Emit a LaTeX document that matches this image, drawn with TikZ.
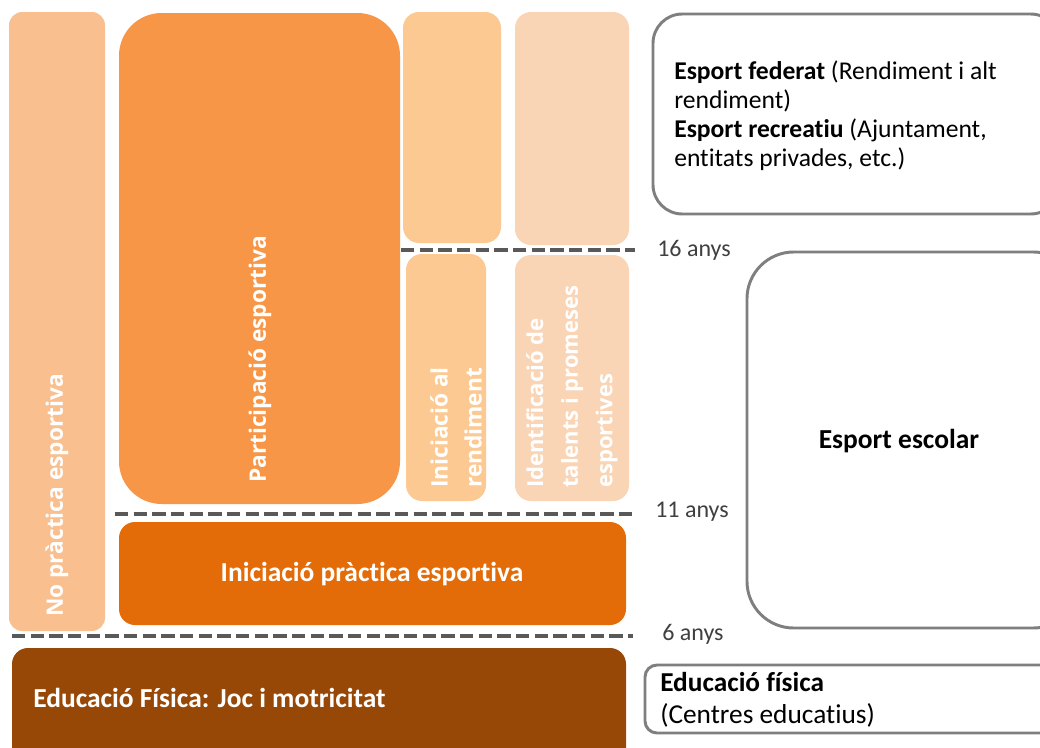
\documentclass[tikz,border=0pt]{standalone}
\usepackage{fontspec}
\setmainfont[Ligatures=NoCommon]{Carlito}
\newfontfamily\vfont{Open Sans}
\definecolor{cNo}{HTML}{F9BF8F}
\definecolor{cPart}{HTML}{F79646}
\definecolor{cRend}{HTML}{FDC993}
\definecolor{cTal}{HTML}{FAD5B5}
\definecolor{cIni}{HTML}{E36C09}
\definecolor{cEdu}{HTML}{984806}
\definecolor{cBorder}{HTML}{7F7F7F}
\definecolor{cDash}{HTML}{595959}
\definecolor{cAge}{HTML}{404040}
\tikzset{
  blk/.style={rounded corners=#1, draw=none},
  outbox/.style={rounded corners=#1, draw=cBorder, line width=2.2pt, fill=white},
  agesep/.style={draw=cDash, line width=3pt, dash pattern=on 10pt off 4pt},
  vtxt/.style={rotate=90, anchor=west, text=white, font=\vfont\bfseries\fontsize{17}{20}\selectfont, align=left, inner sep=0pt},
  agelbl/.style={anchor=west, text=cAge, font=\fontsize{18}{20}\selectfont, inner sep=0pt},
  wlbl/.style={text=white, font=\bfseries\fontsize{20.6}{24}\selectfont},
}
\begin{document}
\begin{tikzpicture}[x=0.75pt,y=-0.75pt]
\clip (0,0) rectangle (1040,747);
\fill[white] (0,0) rectangle (1040,747);
% coloured blocks
\fill[blk=10pt, cNo] (9,12) rectangle (105,631);
\fill[blk=32pt, cPart] (119,13) rectangle (400,504);
\fill[blk=12pt, cRend] (403,12) rectangle (501,243);
\fill[blk=12pt, cTal] (515,12) rectangle (629,245);
\fill[blk=12pt, cRend] (406,254) rectangle (486,501);
\fill[blk=12pt, cTal] (515,255) rectangle (629,501);
\fill[blk=12pt, cIni] (119,522) rectangle (626,625);
\fill[blk=12pt, cEdu] (12,648) rectangle (626,770);
% texts in blocks
\node[vtxt] (noprac) at (57,617) {No pràctica esportiva};
\node[vtxt] (part) at (260,483) {Participació esportiva};
\node[vtxt, font=\vfont\bfseries\fontsize{17}{25.5}\selectfont] (rend) at (456,488) {Iniciació al\\rendiment};
\node[vtxt, font=\vfont\bfseries\fontsize{16.5}{26}\selectfont] (tal) at (572,488) {Identificació de\\talents i promeses\\esportives};
\node[wlbl] (ini) at (372,574) {Iniciació pràctica esportiva};
\node[wlbl, anchor=west, inner sep=0pt] (edu) at (33,698) {Educació Física: Joc i motricitat};
% age separators
\coordinate (s16a) at (401,250); \coordinate (s16b) at (635,250);
\coordinate (s11a) at (115,514); \coordinate (s11b) at (633,514);
\coordinate (s6a) at (12,636); \coordinate (s6b) at (633,636);
\draw[agesep] (s16a) -- (s16b);
\draw[agesep] (s11a) -- (s11b);
\draw[agesep] (s6a) -- (s6b);
\node[agelbl] (a16) at (657,250) {16 anys};
\node[agelbl] (a11) at (655,512) {11 anys};
\node[agelbl] (a6) at (662,634) {6 anys};
% outlined boxes on the right
\draw[outbox=22pt] (653,14) rectangle (1060,214);
\node[anchor=west, inner sep=0pt, align=left, font=\fontsize{19.2}{21.75}\selectfont] (fed) at (674,116)
  {\textbf{Esport federat} (Rendiment i alt\\rendiment)\\\textbf{Esport recreatiu} (Ajuntament,\\entitats privades, etc.)};
\draw[outbox=35pt] (747,252) rectangle (1080,628);
\node[font=\bfseries\fontsize{20.6}{24}\selectfont] (esc) at (899,441) {Esport escolar};
\draw[outbox=9pt] (645,665) rectangle (1060,733);
\node[anchor=west, inner sep=0pt, align=left, font=\fontsize{20.5}{24}\selectfont] (edf) at (660,700)
  {\textbf{Educació física}\\(Centres educatius)};
\end{tikzpicture}
\end{document}
